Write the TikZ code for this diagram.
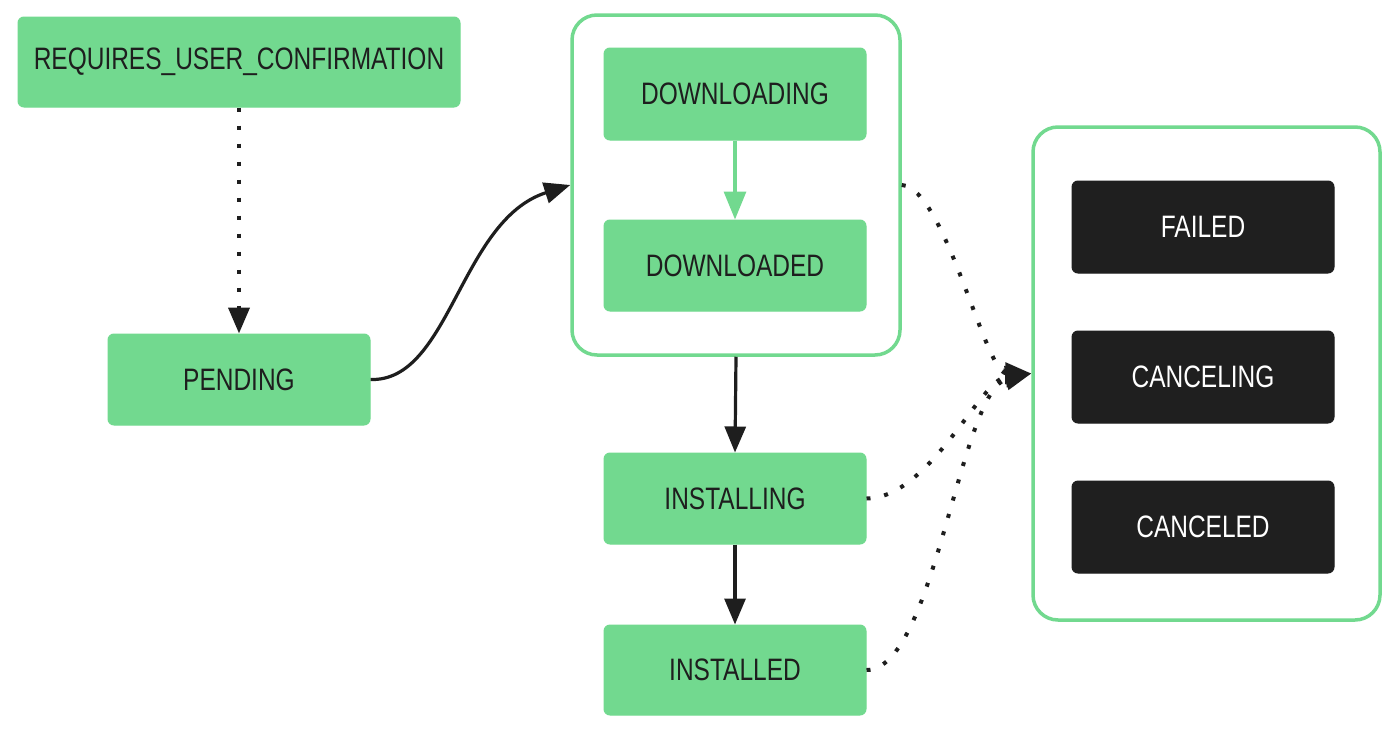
\documentclass[tikz,border=0pt]{standalone}
\usepackage{fontspec}
\setmainfont{Liberation Sans}[FakeStretch=0.79]
\usetikzlibrary{arrows.meta}
\definecolor{stgreen}{HTML}{72D98F}
\definecolor{stdark}{HTML}{1F1F1F}
\definecolor{ink}{HTML}{1E1E1E}
\tikzset{
  gbox/.style={draw=stgreen, fill=stgreen, rounded corners=6pt, line width=1pt,
    minimum width=262pt, minimum height=91pt, inner sep=0pt,
    font=\fontsize{31}{31}\selectfont, text=ink},
  dbox/.style={draw=stdark, fill=stdark, rounded corners=6pt, line width=1pt,
    minimum width=262pt, minimum height=92pt, inner sep=0pt,
    font=\fontsize{31}{31}\selectfont, text=white},
  cont/.style={draw=stgreen, line width=3.5pt, rounded corners=25pt, fill=white},
  tip/.style={-{Triangle[length=26pt,width=21pt]}},
  solidarrow/.style={tip, line width=3.2pt, draw=ink},
  dotarrow/.style={tip, line width=4pt, draw=ink, dash pattern=on 4pt off 14pt},
}
\begin{document}
\begin{tikzpicture}[x=1pt,y=-1pt]
\useasboundingbox (0,0) rectangle (1400,736);
% containers
\node[cont, minimum width=328pt, minimum height=340pt] (c1) at (736,185) {};
\node[cont, minimum width=347pt, minimum height=493pt] (c2) at (1206.5,373.5) {};
% nodes
\node[gbox, minimum width=442pt, minimum height=90pt] (req) at (239,62) {REQUIRES\_USER\_CONFIRMATION};
\node[gbox] (pend) at (239,379.5) {PENDING};
\node[gbox, minimum height=92pt] (dling) at (735,94) {DOWNLOADING};
\node[gbox] (dled) at (735,265.5) {DOWNLOADED};
\node[gbox] (ining) at (735,498.5) {INSTALLING};
\node[gbox, minimum height=90pt] (ined) at (735,670) {INSTALLED};
\node[dbox] (failed) at (1203,227) {FAILED};
\node[dbox] (canceling) at (1203,377) {CANCELING};
\node[dbox] (canceled) at (1203,527) {CANCELED};
% connectors
\draw[dotarrow] (req.south) -- (pend.north);
\draw[solidarrow] (pend.east) .. controls (450,382) and (460,220) .. (c1.west);
\draw[tip, line width=3.2pt, draw=stgreen, -{Triangle[length=28pt,width=22pt,fill=stgreen]}] (dling.south) -- (dled.north);
\draw[solidarrow] (c1.south) -- (ining.north);
\draw[solidarrow] (ining.south) -- (ined.north);
\draw[dotarrow] (c1.east) .. controls (945,188) and (985,373) .. (c2.west);
\draw[dotarrow] (ining.east) .. controls (930,498) and (980,380) .. (c2.west);
\draw[dotarrow] (ined.east) .. controls (935,670) and (960,390) .. (c2.west);
\end{tikzpicture}
\end{document}
